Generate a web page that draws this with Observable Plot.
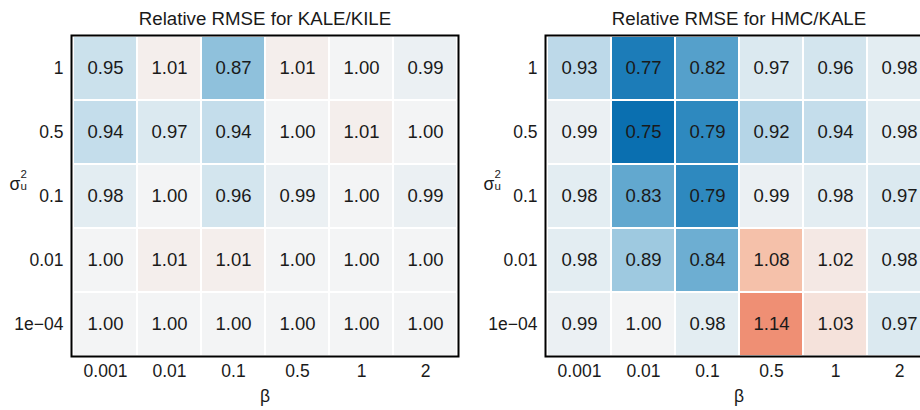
<!DOCTYPE html>
<html>
<head>
<meta charset="utf-8">
<script src="https://cdn.jsdelivr.net/npm/d3@7"></script>
<script src="https://cdn.jsdelivr.net/npm/@observablehq/plot@0.6"></script>
<style>
  html, body { margin: 0; padding: 0; background: #fff; overflow: hidden; }
  #wrap { display: flex; flex-wrap: nowrap; width: 960px; font-family: "Liberation Sans", Arial, sans-serif; }
  #wrap svg { flex: none; font-family: "Liberation Sans", Arial, sans-serif; }
</style>
</head>
<body>
<div id="wrap"></div>
<script>
const betas = ["0.001", "0.01", "0.1", "0.5", "1", "2"];
const sigmas = ["1", "0.5", "0.1", "0.01", "1e\u221204"];

const kaleKile = [
  [0.95, 1.01, 0.87, 1.01, 1.00, 0.99],
  [0.94, 0.97, 0.94, 1.00, 1.01, 1.00],
  [0.98, 1.00, 0.96, 0.99, 1.00, 0.99],
  [1.00, 1.01, 1.01, 1.00, 1.00, 1.00],
  [1.00, 1.00, 1.00, 1.00, 1.00, 1.00]
];
const hmcKale = [
  [0.93, 0.77, 0.82, 0.97, 0.96, 0.98],
  [0.99, 0.75, 0.79, 0.92, 0.94, 0.98],
  [0.98, 0.83, 0.79, 0.99, 0.98, 0.97],
  [0.98, 0.89, 0.84, 1.08, 1.02, 0.98],
  [0.99, 1.00, 0.98, 1.14, 1.03, 0.97]
];
const titles = ["Relative RMSE for KALE/KILE", "Relative RMSE for HMC/KALE"];

function toRows(matrix) {
  const rows = [];
  sigmas.forEach((s, i) => betas.forEach((b, j) => rows.push({beta: b, sigma: s, value: matrix[i][j]})));
  return rows;
}

function panel(matrix, title) {
  const data = toRows(matrix);
  const fs = 17.5;
  const ink = "#1a1a1a";
  return Plot.plot({
    width: 474,
    height: 410,
    marginLeft: 71,
    marginRight: 16,
    marginTop: 35,
    marginBottom: 54,
    style: {fontFamily: "Liberation Sans, Arial, sans-serif", background: "white"},
    x: {domain: betas, padding: 0},
    y: {domain: sigmas, padding: 0},
    color: {
      type: "linear",
      domain: [0.75, 0.79, 0.83, 0.87, 0.92, 0.96, 1.0, 1.04, 1.08, 1.14],
      range: ["#0a6fb0", "#2e89bf", "#62a8cf", "#8fc1dc", "#b5d5e7", "#d3e5ee", "#f3f4f5", "#f5dcd2", "#f5c1aa", "#ef8f74"],
      interpolate: "rgb"
    },
    marks: [
      Plot.cell(data, {x: "beta", y: "sigma", fill: "value", inset: 1}),
      Plot.text(data, {x: "beta", y: "sigma", text: d => d.value.toFixed(2), fill: ink, fontSize: 18.5}),
      Plot.frame({stroke: "black", strokeWidth: 2}),
      Plot.axisX({tickSize: 0, tickPadding: 8, fontSize: fs, label: null, fill: ink}),
      Plot.axisY({tickSize: 0, tickPadding: 8, fontSize: fs, label: null, fill: ink}),
      Plot.text([title], {text: d => d, frameAnchor: "top", dy: -24, fontSize: 18.7, fill: ink}),
      Plot.text(["\u03b2"], {text: d => d, frameAnchor: "bottom", dy: 45, fontSize: fs, fill: ink}),
      Plot.text(["\u03c3"], {text: d => d, frameAnchor: "left", dx: -62, dy: -12, fontSize: fs, fill: ink}),
      Plot.text(["2"], {text: d => d, frameAnchor: "left", dx: -51, dy: -22, fontSize: 11.5, fill: ink}),
      Plot.text(["u"], {text: d => d, frameAnchor: "left", dx: -51, dy: -10, fontSize: 11.5, fill: ink})
    ]
  });
}

const wrap = document.getElementById("wrap");
wrap.append(panel(kaleKile, titles[0]));
wrap.append(panel(hmcKale, titles[1]));
</script>
</body>
</html>
